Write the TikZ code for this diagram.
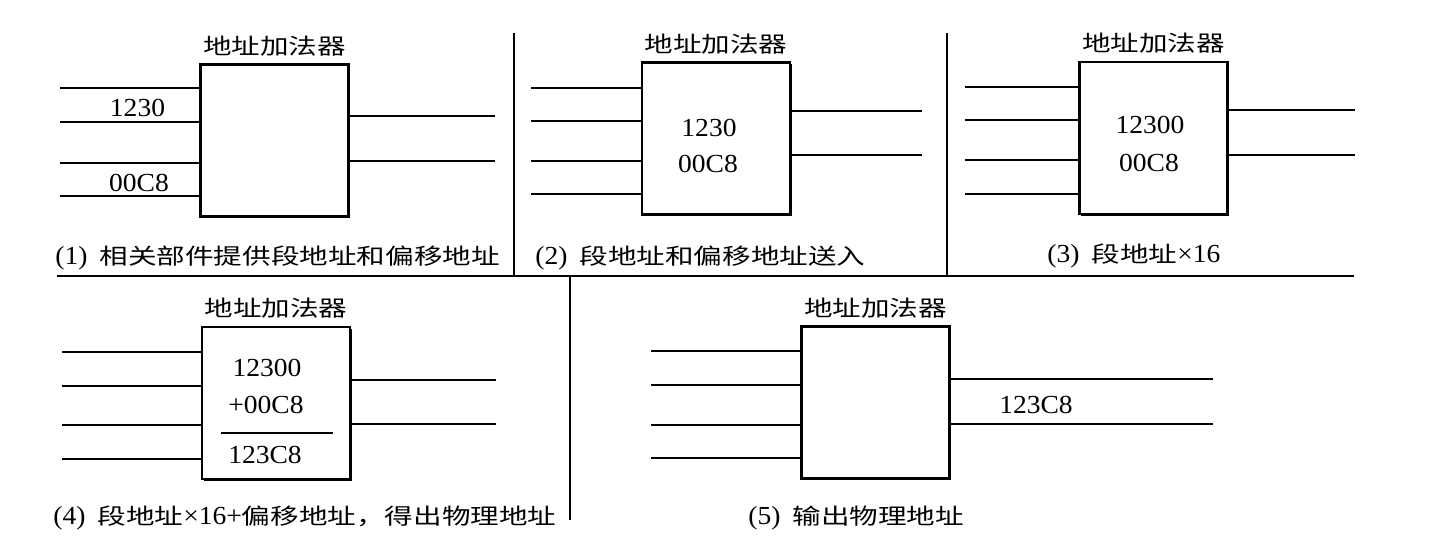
\documentclass[tikz,border=0pt]{standalone}
\usepackage{fontspec}
\setmainfont[FakeStretch=1.06]{Liberation Serif}
\newfontfamily\cjk[FakeStretch=1.3]{Noto Sans CJK SC}
\newcommand\zhtxt[1]{{\cjk\fontsize{11}{13}\selectfont #1}}
\usetikzlibrary{positioning, shadows}

\tikzset{
  adder/.style={draw, line width=1.3pt, fill=white, minimum width=74pt, minimum height=76pt,
    inner sep=0pt, drop shadow={shadow xshift=0.8pt, shadow yshift=-0.8pt, opacity=1, fill=black}},
  wire/.style={line width=1.1pt},
  divider/.style={line width=1.2pt},
  title/.style={font=\cjk\fontsize{11}{13}\selectfont, inner sep=1pt},
  val/.style={font=\fontsize{13}{15}\selectfont, inner sep=0pt},
  caption/.style={anchor=west, font=\fontsize{13}{15}\selectfont, inner sep=0pt}
}

\begin{document}
\begin{tikzpicture}[x=0.5pt, y=-0.5pt]
  \useasboundingbox (0,0) rectangle (1434,558);

  % dividers between the five steps
  \draw[divider] (57,276) -- (1354,276);
  \draw[divider] (514,33) -- (514,276);
  \draw[divider] (947,33) -- (947,276);
  \draw[divider] (570,276) -- (570,520);

  % (1)
  \node[adder] (add1) at (274.5,140.5) {};
  \node[title, above=2.5pt of add1] (title1) {地址加法器};
  \draw[wire] (60,88) -- (add1.west |- 0,88);
  \draw[wire] (60,122) -- (add1.west |- 0,122);
  \draw[wire] (60,163) -- (add1.west |- 0,163);
  \draw[wire] (60,196) -- (add1.west |- 0,196);
  \draw[wire] (add1.east |- 0,116) -- (495,116);
  \draw[wire] (add1.east |- 0,161) -- (495,161);
  \node[val] (seg1) at (137.5,108) {1230};
  \node[val] (off1) at (139,182.5) {00C8};
  \node[caption] (cap1) at (55,258) {(1)\hspace{6pt}\zhtxt{相关部件提供段地址和偏移地址}};

  % (2)
  \node[adder] (add2) at (716,138.5) {};
  \node[title, above=2.5pt of add2] (title2) {地址加法器};
  \draw[wire] (531,88) -- (add2.west |- 0,88);
  \draw[wire] (531,121) -- (add2.west |- 0,121);
  \draw[wire] (531,161) -- (add2.west |- 0,161);
  \draw[wire] (531,194) -- (add2.west |- 0,194);
  \draw[wire] (add2.east |- 0,111) -- (922,111);
  \draw[wire] (add2.east |- 0,155) -- (922,155);
  \node[val] (seg2) at (709,128) {1230};
  \node[val] (off2) at (708,164) {00C8};
  \node[caption] (cap2) at (535,258) {(2)\hspace{6pt}\zhtxt{段地址和偏移地址送入}};

  % (3)
  \node[adder] (add3) at (1153.5,138) {};
  \node[title, above=2.5pt of add3] (title3) {地址加法器};
  \draw[wire] (965,87) -- (add3.west |- 0,87);
  \draw[wire] (965,120) -- (add3.west |- 0,120);
  \draw[wire] (965,160) -- (add3.west |- 0,160);
  \draw[wire] (965,194) -- (add3.west |- 0,194);
  \draw[wire] (add3.east |- 0,110) -- (1355,110);
  \draw[wire] (add3.east |- 0,155) -- (1355,155);
  \node[val] (seg3) at (1150,125) {12300};
  \node[val] (off3) at (1149,163) {00C8};
  \node[caption] (cap3) at (1047,256) {(3)\hspace{6pt}\zhtxt{段地址}×16};

  % (4)
  \node[adder] (add4) at (276,403) {};
  \node[title, above=2.5pt of add4] (title4) {地址加法器};
  \draw[wire] (62,352) -- (add4.west |- 0,352);
  \draw[wire] (62,386) -- (add4.west |- 0,386);
  \draw[wire] (62,425) -- (add4.west |- 0,425);
  \draw[wire] (62,459) -- (add4.west |- 0,459);
  \draw[wire] (add4.east |- 0,380) -- (496,380);
  \draw[wire] (add4.east |- 0,424) -- (496,424);
  \node[val] (seg4) at (267,368) {12300};
  \node[val] (off4) at (266,405) {+00C8};
  \draw[wire] (221,433) -- (333,433);
  \node[val] (sum4) at (265,455) {123C8};
  \node[caption] (cap4) at (53,518) {(4)\hspace{6pt}\zhtxt{段地址}×16+\zhtxt{偏移地址，得出物理地址}};

  % (5)
  \node[adder] (add5) at (875.5,402.5) {};
  \node[title, above=2.5pt of add5] (title5) {地址加法器};
  \draw[wire] (651,351) -- (add5.west |- 0,351);
  \draw[wire] (651,385) -- (add5.west |- 0,385);
  \draw[wire] (651,425) -- (add5.west |- 0,425);
  \draw[wire] (651,458) -- (add5.west |- 0,458);
  \draw[wire] (add5.east |- 0,379) -- (1213,379);
  \draw[wire] (add5.east |- 0,424) -- (1213,424);
  \node[val] (phys5) at (1036,405) {123C8};
  \node[caption] (cap5) at (748,518) {(5)\hspace{6pt}\zhtxt{输出物理地址}};
\end{tikzpicture}
\end{document}
